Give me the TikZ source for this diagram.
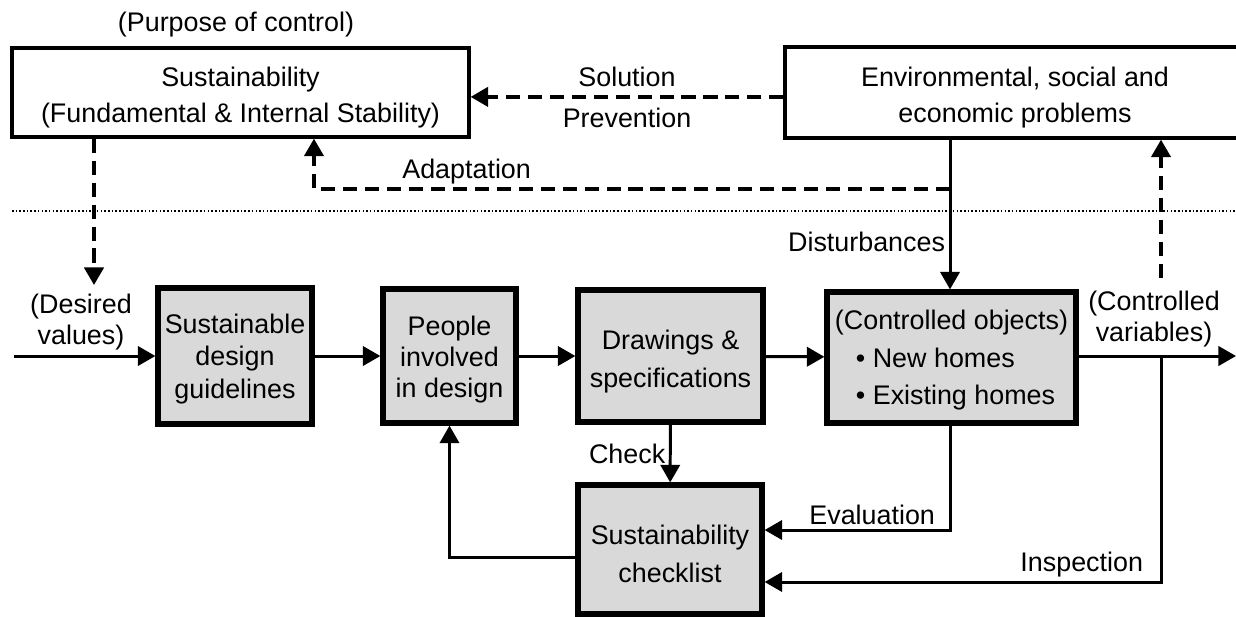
\documentclass[tikz,border=0pt]{standalone}
\usepackage{fontspec}
\setmainfont{Liberation Sans}
\usetikzlibrary{arrows.meta}
\definecolor{boxfill}{HTML}{D9D9D9}

\begin{document}
\begin{tikzpicture}[
  x=0.02cm, y=-0.02cm,
  font=\fontsize{15.3}{20.5}\selectfont,
  goal/.style={draw, line width=1.9pt, align=center, inner sep=2pt},
  block/.style={draw, line width=3pt, fill=boxfill, align=center, inner sep=2pt},
  lab/.style={align=center, inner sep=2pt},
  flow/.style={-{Triangle[length=10pt,width=11pt]}, line width=1.7pt},
  dflow/.style={flow, line width=2pt, dash pattern=on 8pt off 4.5pt},
]
\useasboundingbox (0,0) rectangle (1236,616);
% upper part: purpose and problems
\node[lab] (purpose) at (236,25) {(Purpose of control)};
\node[goal, minimum width=9.14cm, minimum height=1.78cm] (sust) at (240.5,92.5) {\rule{0pt}{17pt}Sustainability\\(Fundamental \& Internal Stability)};
\node[goal, minimum width=9.2cm, minimum height=1.82cm] (env) at (1015,92.5) {\rule{0pt}{17pt}Environmental, social and\\economic problems};
% boundary between the two levels
\draw[line width=0.9pt, dash pattern=on 0.9pt off 1.2pt] (12,211) -- (1236,211);
% control loop
\node[block, minimum width=3.08cm, minimum height=2.72cm, font=\fontsize{15.3}{18.5}\selectfont] (guide) at (235,356) {\rule{0pt}{14.5pt}Sustainable\\design\\guidelines};
\node[block, minimum width=2.66cm, minimum height=2.68cm, font=\fontsize{15.3}{17.5}\selectfont] (people) at (449.5,356) {\rule{0pt}{15pt}People\\involved\\in design};
\node[block, minimum width=3.7cm, minimum height=2.64cm, font=\fontsize{15.3}{21.5}\selectfont] (drawings) at (670.5,356) {\rule{0pt}{17pt}Drawings \&\\specifications};
\node[block, minimum width=4.98cm, minimum height=2.62cm, align=left, font=\fontsize{15.3}{21.5}\selectfont] (objects) at (951.5,357.5) {\rule{0pt}{14pt}(Controlled objects)\\\hspace*{0.42cm}\textbullet\ New homes\\\hspace*{0.42cm}\textbullet\ Existing homes};
\node[block, minimum width=3.68cm, minimum height=2.58cm, font=\fontsize{15.3}{22}\selectfont] (checklist) at (670,549.5) {\rule{0pt}{16pt}Sustainability\\checklist};
\node[lab, font=\fontsize{15.3}{17.5}\selectfont] (desiredlab) at (81,322) {(Desired\\values)};
\node[lab, font=\fontsize{15.3}{18}\selectfont] (ctrllab) at (1154,319) {(Controlled\\variables)};
\coordinate (in) at (14,356);
\coordinate (out) at (1236,356);
\coordinate (desired) at (94,285);
\coordinate (adapt) at (950,189);
\coordinate (ctrl) at (1161,278);
\coordinate (tap) at (1161,356);
\draw[flow] (in) -- (guide);
\draw[flow] (guide) -- (people);
\draw[flow] (people) -- (drawings);
\draw[flow] (drawings) -- (objects);
\draw[flow] (objects.east |- out) -- (out);
\draw[flow] (drawings) -- node[lab, left] {Check} (checklist);
\draw[flow] ([yshift=-0.15cm]checklist.west) -| (people.south);
\draw[flow] (objects.south -| adapt) |- node[lab, above, pos=0.71] {Evaluation} ([yshift=0.39cm]checklist.east);
\draw[flow] (tap) |- node[lab, above, pos=0.6] {Inspection} ([yshift=-0.65cm]checklist.east);
% disturbances and feedback to the purpose
\draw[flow] (env.south -| adapt) -- node[lab, left, pos=0.68] {Disturbances} (objects.north -| adapt);
\draw[dflow] (sust.south -| desired) -- (desired);
\draw[dflow] ([yshift=-2.5pt]env.west) -- node[lab, above=2.5pt] {Solution} node[lab, below=3.5pt] {Prevention} ([yshift=-2.5pt]sust.east);
\draw[dflow] (adapt) -| node[lab, above, pos=0.38] {Adaptation} ([xshift=1.47cm]sust.south);
\draw[dflow] (ctrl) -- (ctrl |- env.south);
\end{tikzpicture}
\end{document}
